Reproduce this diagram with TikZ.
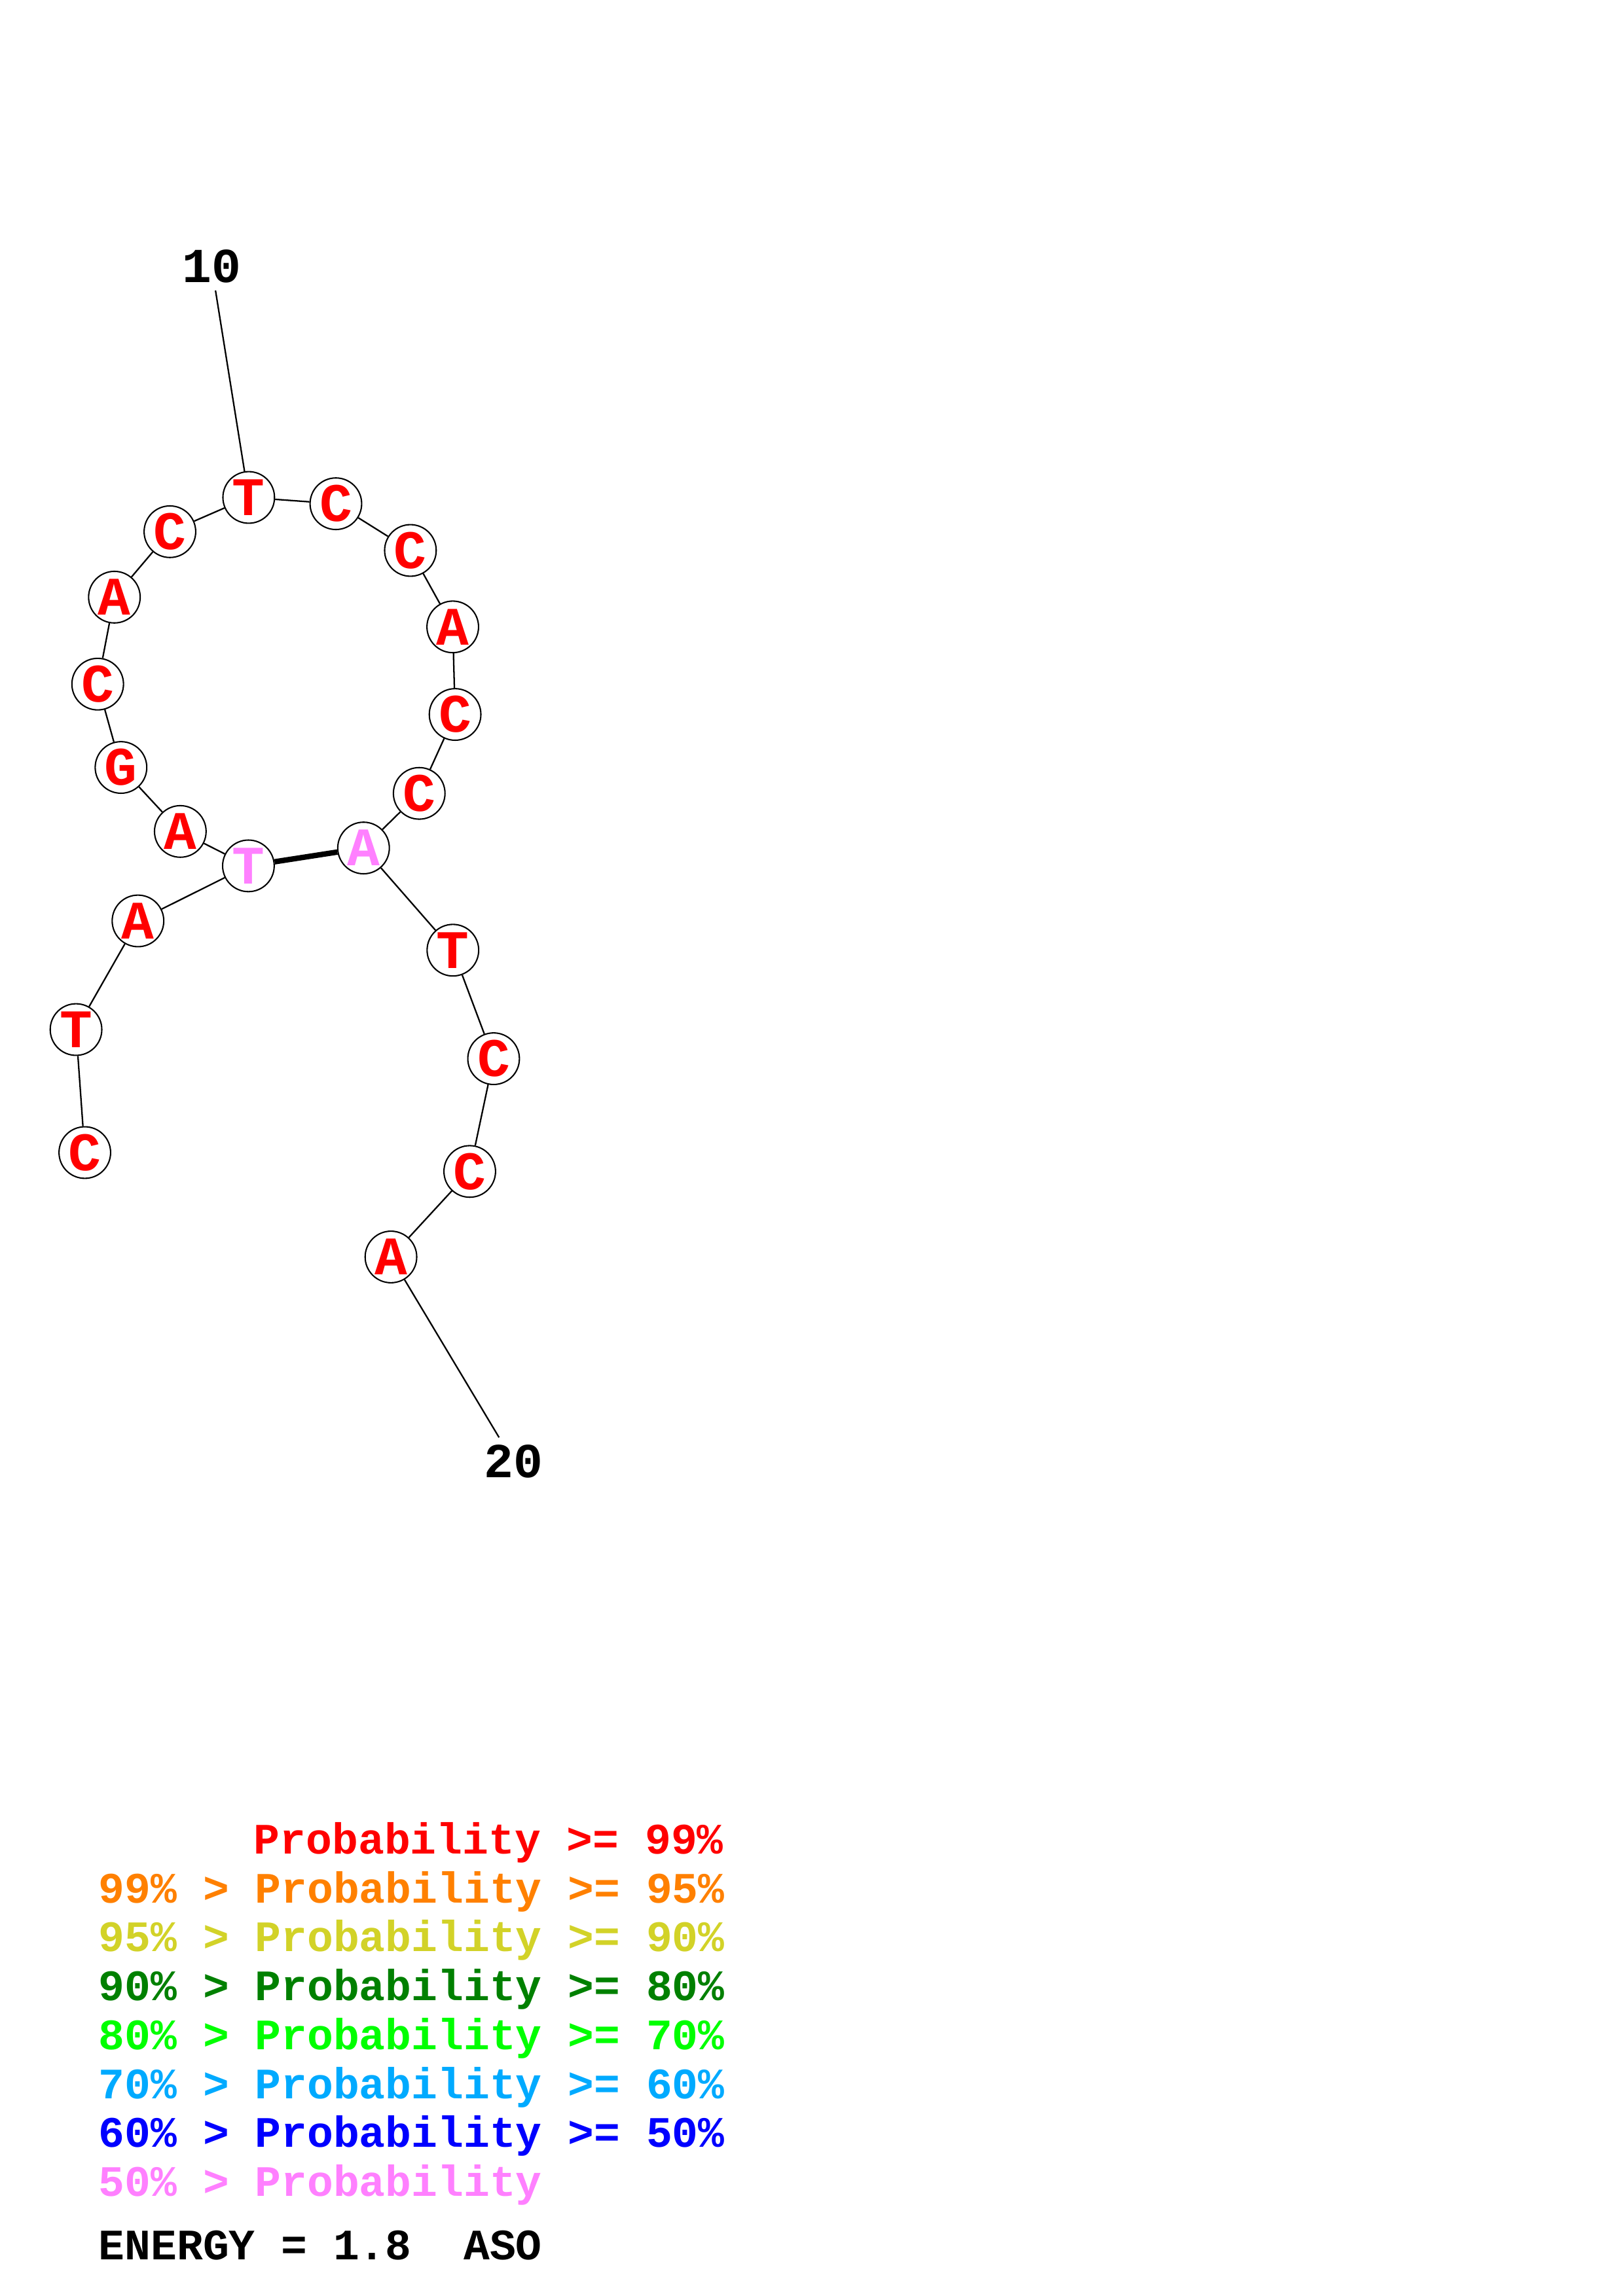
\documentclass[tikz,border=0pt]{standalone}
\usepackage{fontspec}
\setmonofont{Liberation Mono}
\usepackage{tikz}

\definecolor{probA}{RGB}{255,0,0}
\definecolor{probB}{RGB}{255,128,0}
\definecolor{probC}{RGB}{210,210,40}
\definecolor{probD}{RGB}{0,128,0}
\definecolor{probE}{RGB}{0,255,0}
\definecolor{probF}{RGB}{0,170,255}
\definecolor{probG}{RGB}{0,0,255}
\definecolor{probH}{RGB}{255,128,255}

\tikzset{
  base/.style={circle, draw, line width=0.5pt, fill=white, inner sep=0pt, minimum size=19pt, text=probA, font=\ttfamily\bfseries\fontsize{20}{20}\selectfont},
  lowbase/.style={base, text=probH},
  backbone/.style={line width=0.55pt},
  pairbond/.style={line width=2pt},
  endlabel/.style={inner sep=2.5pt, font=\ttfamily\bfseries\fontsize{18}{18}\selectfont},
  legendline/.style={anchor=base west, inner sep=0pt, font=\ttfamily\bfseries\fontsize{16}{16}\selectfont}
}

\begin{document}
\begin{tikzpicture}[x=0.53927pt,y=0.53927pt,yscale=-1,xscale=1]
\useasboundingbox (0,0) rectangle (1108,1568);

% Bases
\node[base] (b1) at (57.9,787.1) {C};
\node[base] (b2) at (51.9,703.1) {T};
\node[base] (b3) at (94.2,628.9) {A};
\node[lowbase] (b4) at (169.6,591.3) {T};
\node[base] (b5) at (123.1,567.8) {A};
\node[base] (b6) at (82.6,524.1) {G};
\node[base] (b7) at (66.7,467.2) {C};
\node[base] (b8) at (78.1,407.8) {A};
\node[base] (b9) at (116.0,363.1) {C};
\node[base] (b10) at (169.8,339.7) {T};
\node[base] (b11) at (229.3,344.0) {C};
\node[base] (b12) at (280.2,375.9) {C};
\node[base] (b13) at (309.1,428.1) {A};
\node[base] (b14) at (310.7,487.9) {C};
\node[base] (b15) at (286.2,541.8) {C};
\node[lowbase] (b16) at (248.2,579.1) {A};
\node[base] (b17) at (309.2,648.9) {T};
\node[base] (b18) at (337.0,723.0) {C};
\node[base] (b19) at (320.7,800.0) {C};
\node[base] (b20) at (266.9,858.4) {A};

% Text Node
\node[endlabel] (n10) at (144.5,182) {10};
% Text Node
\node[endlabel] (n20) at (350.5,998) {20};

%Straight Lines
\draw[backbone] (b1) -- (b2) -- (b3) -- (b4) -- (b5) -- (b6) -- (b7) -- (b8) -- (b9) -- (b10);
\draw[backbone] (b10) -- (b11) -- (b12) -- (b13) -- (b14) -- (b15) -- (b16) -- (b17) -- (b18) -- (b19) -- (b20);
\draw[backbone] (n10) -- (b10);
\draw[backbone] (b20) -- (n20);
%Straight Lines (pair)
\draw[pairbond] (b4) -- (b16);

% Legend
\node[legendline, text=probA] (lgA) at (173,1266) {Probability >= 99\%};
\node[legendline, text=probB] (lgB) at (67,1299.4) {99\% > Probability >= 95\%};
\node[legendline, text=probC] (lgC) at (67,1332.8) {95\% > Probability >= 90\%};
\node[legendline, text=probD] (lgD) at (67,1366.2) {90\% > Probability >= 80\%};
\node[legendline, text=probE] (lgE) at (67,1399.6) {80\% > Probability >= 70\%};
\node[legendline, text=probF] (lgF) at (67,1433.0) {70\% > Probability >= 60\%};
\node[legendline, text=probG] (lgG) at (67,1466.4) {60\% > Probability >= 50\%};
\node[legendline, text=probH] (lgH) at (67,1499.8) {50\% > Probability};
% Text Node
\node[legendline] (energy) at (67,1543) {ENERGY = 1.8\ \ ASO};

\end{tikzpicture}
\end{document}
